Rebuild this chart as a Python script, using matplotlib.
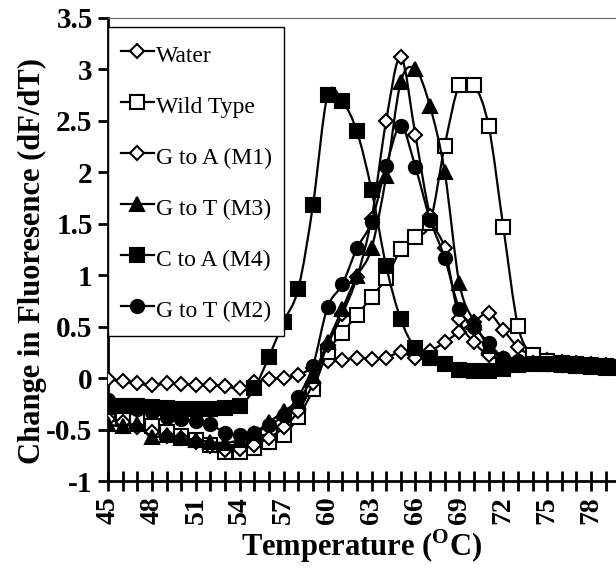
import matplotlib
matplotlib.use('Agg')
import matplotlib.pyplot as plt
from matplotlib.path import Path
from matplotlib.patches import PathPatch
from matplotlib.lines import Line2D
import numpy as np

# temperature steps (deg C), one reading per degree
temps = list(range(45, 81))

water = [-0.01, -0.03, -0.05, -0.07, -0.05, -0.06, -0.07, -0.07, -0.08, -0.10,
         -0.04, -0.01, 0.00, 0.03, 0.10, 0.17, 0.18, 0.20, 0.19, 0.20,
         0.25, 0.20, 0.26, 0.35, 0.45, 0.55, 0.63, 0.47, 0.30, 0.22,
         0.18, 0.16, 0.15, 0.14, 0.13, 0.12]
wild_type = [-0.35, -0.38, -0.42, -0.47, -0.52, -0.56, -0.60, -0.65, -0.72, -0.72,
             -0.68, -0.62, -0.55, -0.38, -0.11, 0.25, 0.44, 0.61, 0.79, 0.97,
             1.25, 1.37, 1.51, 2.26, 2.85, 2.85, 2.45, 1.47, 0.51, 0.22,
             0.17, 0.15, 0.14, 0.13, 0.12, 0.11]
g_to_a_m1 = [-0.40, -0.43, -0.48, -0.52, -0.56, -0.58, -0.62, -0.66, -0.70, -0.69,
             -0.65, -0.58, -0.48, -0.32, -0.05, 0.32, 0.62, 0.98, 1.55, 2.50,
             3.12, 2.36, 1.58, 1.26, 0.57, 0.35, 0.22, 0.18, 0.16, 0.15,
             0.14, 0.14, 0.13, 0.12, 0.12, 0.11]
g_to_t_m3 = [-0.45, -0.47, -0.45, -0.57, -0.55, -0.58, -0.60, -0.62, -0.63, -0.60,
             -0.53, -0.43, -0.32, -0.22, 0.02, 0.35, 0.67, 0.99, 1.26, 1.96,
             2.88, 3.00, 2.64, 2.00, 0.92, 0.55, 0.31, 0.20, 0.17, 0.15,
             0.14, 0.13, 0.13, 0.12, 0.11, 0.11]
c_to_a_m4 = [-0.28, -0.27, -0.27, -0.28, -0.29, -0.30, -0.30, -0.30, -0.29, -0.27,
             -0.10, 0.21, 0.55, 0.87, 1.68, 2.75, 2.69, 2.40, 1.83, 1.09,
             0.57, 0.29, 0.20, 0.14, 0.08, 0.07, 0.07, 0.09, 0.13, 0.14,
             0.14, 0.13, 0.12, 0.11, 0.10, 0.10]
g_to_t_m2 = [-0.21, -0.27, -0.30, -0.33, -0.38, -0.40, -0.42, -0.45, -0.53, -0.55,
             -0.53, -0.46, -0.36, -0.18, 0.12, 0.69, 0.91, 1.26, 1.52, 2.06,
             2.45, 2.05, 1.54, 1.17, 0.67, 0.50, 0.34, 0.20, 0.17, 0.15,
             0.14, 0.13, 0.12, 0.12, 0.11, 0.11]

series_names = ['Water', 'Wild Type', 'G to A (M1)', 'G to T (M3)', 'C to A (M4)', 'G to T (M2)']
series_values = [water, wild_type, g_to_a_m1, g_to_t_m3, c_to_a_m4, g_to_t_m2]
markers = ['D', 's', 'D', '^', 's', 'o']
faces = ['white', 'white', 'white', 'black', 'black', 'black']
msizes = [7, 9.5, 7, 10, 9.5, 9.5]

ytick_vals = [-1, -0.5, 0, 0.5, 1, 1.5, 2, 2.5, 3, 3.5]
ytick_labels = ['-1', '-0.5', '0', '0.5', '1', '1.5', '2', '2.5', '3', '3.5']

serif = 'Liberation Serif'
plt.rcParams['mathtext.fontset'] = 'custom'
plt.rcParams['mathtext.rm'] = 'Liberation Serif:bold'
plt.rcParams['mathtext.bf'] = 'Liberation Serif:bold'


def smooth_path(x, y):
    # excel-style smoothed line: cubic bezier through each point
    pts = np.column_stack([x, y]).astype(float)
    verts = [pts[0]]
    codes = [Path.MOVETO]
    n = len(pts)
    for i in range(n - 1):
        p0 = pts[i - 1] if i > 0 else pts[i]
        p1 = pts[i]
        p2 = pts[i + 1]
        p3 = pts[i + 2] if i + 2 < n else pts[i + 1]
        verts += [p1 + (p2 - p0) / 6, p2 - (p3 - p1) / 6, p2]
        codes += [Path.CURVE4] * 3
    return Path(verts, codes)


fig = plt.figure(figsize=(6.16, 5.70), dpi=100)
ax = fig.add_axes([108 / 616, 89 / 570, 508 / 616, 463 / 570])

handles = []
for k, (name, vals) in enumerate(zip(series_names, series_values)):
    z = 3 + k
    ax.add_patch(PathPatch(smooth_path(temps, vals), fill=False, lw=1.6,
                           edgecolor='black', zorder=z))
    ax.plot(temps, vals, linestyle='none', marker=markers[k], ms=msizes[k],
            mfc=faces[k], mec='black', mew=1.5, zorder=z + 0.5)
    handles.append(Line2D([], [], color='black', lw=1.6, marker=markers[k],
                          ms=msizes[k], mfc=faces[k], mec='black', mew=1.5))

ax.set_xlim(45, 45 + 508 / 14.64)
ax.set_ylim(-1, 3.5)

ax.set_xticks(temps[:35])
ax.set_xticklabels([str(t) if (t - 45) % 3 == 0 else '' for t in temps[:35]],
                   rotation=90, fontfamily=serif, fontweight='bold', fontsize=20)
ax.set_yticks(ytick_vals)
ax.set_yticklabels(ytick_labels, fontfamily=serif, fontweight='bold', fontsize=21)
ax.tick_params(axis='x', direction='inout', length=14, width=2, pad=4)
ax.tick_params(axis='y', direction='out', length=7, width=2, pad=4)

for side in ['left', 'bottom']:
    ax.spines[side].set_linewidth(2)
ax.spines['right'].set_visible(False)
ax.spines['top'].set_linestyle((0, (1, 1)))
ax.spines['top'].set_linewidth(0.8)
ax.spines['top'].set_color('#666666')

ax.set_xlabel(r'Temperature ($^{\mathbf{O}}$C)', fontfamily=serif,
              fontweight='bold', fontsize=22)
ax.xaxis.set_label_coords(0.5, -0.1)
ax.xaxis.label.set_va('top')
ax.set_ylabel('Change in Fluoresence (dF/dT)', fontfamily=serif,
              fontweight='bold', fontsize=22)
ax.yaxis.set_label_coords(-0.12, 0.475)

leg = ax.legend(handles, series_names, loc='upper left',
                bbox_to_anchor=(0, (481 - 27) / 463), borderaxespad=0,
                prop={'family': serif, 'size': 17}, frameon=True,
                fancybox=False, framealpha=1, edgecolor='black',
                handlelength=1.4, handleheight=1.5, handletextpad=0.1,
                borderpad=0.53, labelspacing=0.94)
leg.get_frame().set_linewidth(1)
leg.set_zorder(20)

fig.savefig('out.png', dpi=100)
